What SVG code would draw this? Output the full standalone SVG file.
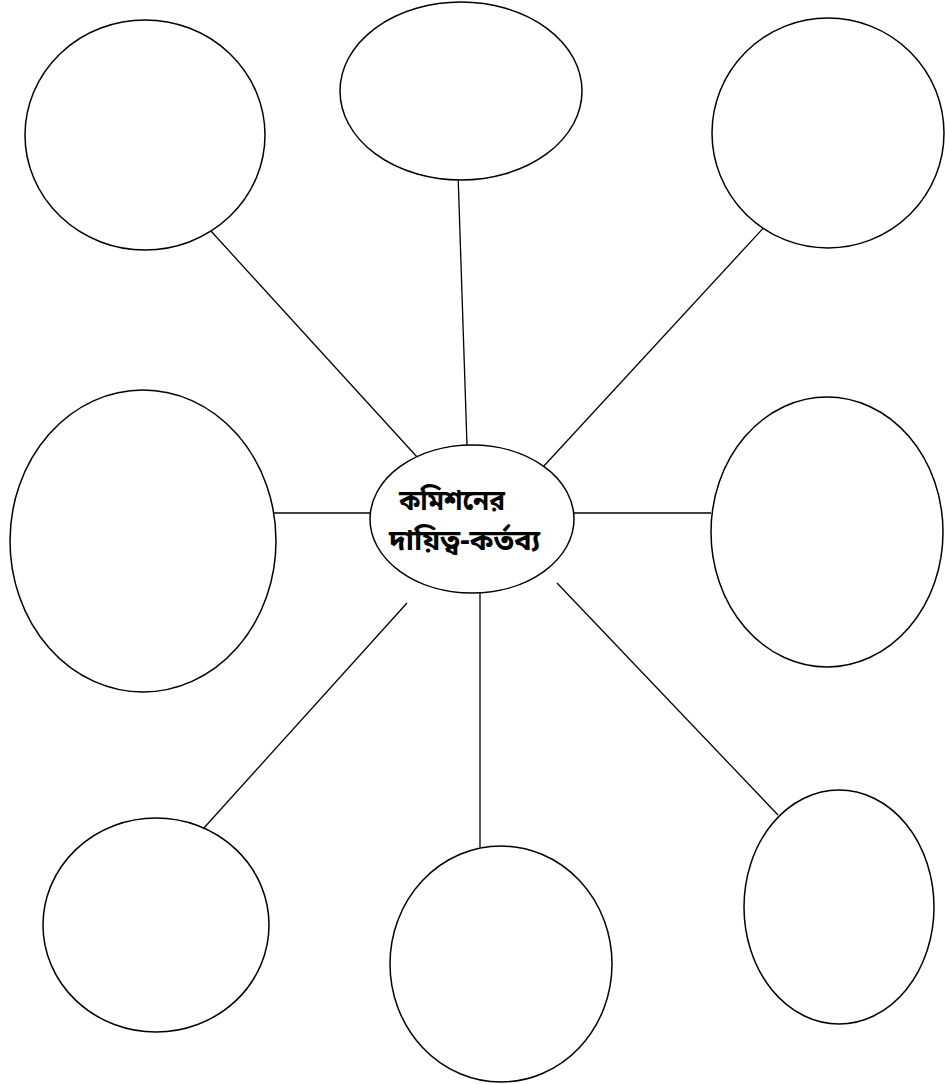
<svg xmlns="http://www.w3.org/2000/svg" width="945" height="1084" viewBox="0 0 945 1084">
<style>
.n{fill:#fff;stroke:#000;stroke-width:1.5}
.c line{stroke:#000;stroke-width:1.3}
.t{font-family:"Noto Sans Bengali","Noto Serif Bengali","Lohit Bengali","Noto Sans",sans-serif;font-size:28px;font-weight:bold;fill:#000}
</style>
<rect width="945" height="1084" fill="#fff"/>
<g class="c" id="connectors">
<line x1="210" y1="230" x2="418" y2="458"/>
<line x1="458" y1="173" x2="467" y2="445"/>
<line x1="768" y1="223" x2="543" y2="467"/>
<line x1="271" y1="513" x2="370" y2="513"/>
<line x1="574" y1="513" x2="711" y2="513"/>
<line x1="407" y1="603" x2="203" y2="829"/>
<line x1="480" y1="593" x2="480" y2="847"/>
<line x1="557" y1="583" x2="778" y2="815"/>
</g>
<g id="n1"><ellipse class="n" cx="145" cy="135" rx="120" ry="115"/></g>
<g id="n2"><ellipse class="n" cx="461" cy="91" rx="121" ry="89"/></g>
<g id="n3"><ellipse class="n" cx="828" cy="133" rx="116" ry="115"/></g>
<g id="n4"><ellipse class="n" cx="143" cy="541" rx="133" ry="151"/></g>
<g id="n6"><ellipse class="n" cx="827" cy="532" rx="116" ry="135"/></g>
<g id="n7"><ellipse class="n" cx="156" cy="925" rx="113" ry="107"/></g>
<g id="n8"><ellipse class="n" cx="501" cy="964" rx="111" ry="118"/></g>
<g id="n9"><ellipse class="n" cx="839" cy="907" rx="95" ry="117"/></g>
<g id="center">
<ellipse class="n" cx="472" cy="519" rx="102" ry="74"/>
<text class="t" x="399" y="510" textLength="106" lengthAdjust="spacingAndGlyphs">কমিশনের</text>
<text class="t" x="389" y="550" textLength="151" lengthAdjust="spacingAndGlyphs">দায়িত্ব-কর্তব্য</text>
</g>
</svg>
